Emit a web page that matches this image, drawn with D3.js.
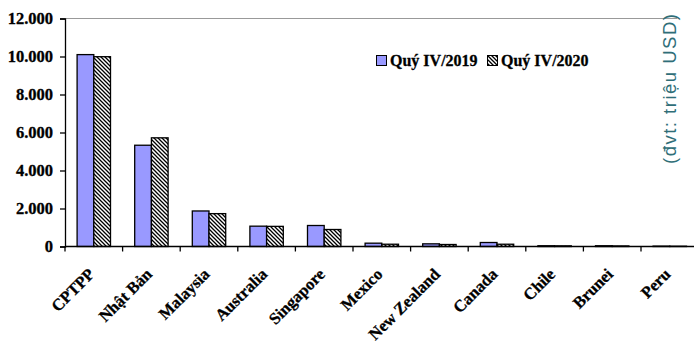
<!DOCTYPE html>
<html>
<head>
<meta charset="utf-8">
<script src="https://cdn.jsdelivr.net/npm/d3@7"></script>
<style>
  html, body { margin: 0; padding: 0; background: #fff; }
  svg { display: block; }
</style>
</head>
<body>
<svg id="chart" width="694" height="343"></svg>
<script>
// Trade with CPTPP partners, quarter IV 2019 vs quarter IV 2020 (million USD)
const categories = ["CPTPP", "Nhật Bản", "Malaysia", "Australia", "Singapore", "Mexico",
                    "New Zealand", "Canada", "Chile", "Brunei", "Peru"];
const q2019 = [10100, 5330, 1870, 1070, 1105, 175, 140, 210, 40, 40, 20];
const q2020 = [9990, 5720, 1730, 1060, 895, 120, 105, 120, 35, 30, 15];
const seriesNames = ["Quý IV/2019", "Quý IV/2020"];
const yTicks = [0, 2000, 4000, 6000, 8000, 10000, 12000];
const unitLabel = "(đvt: triệu USD)";

const svg = d3.select("#chart");
const serif = "'Liberation Serif', 'Times New Roman', serif";

// hatch pattern for the second series
const defs = svg.append("defs");
const pat = defs.append("pattern")
  .attr("id", "hatch")
  .attr("patternUnits", "userSpaceOnUse")
  .attr("width", 4).attr("height", 4);
pat.append("rect").attr("width", 4).attr("height", 4).attr("fill", "#fff");
pat.append("path")
  .attr("d", "M-1,-1 L5,5 M-1,3 L1,5 M3,-1 L5,1")
  .attr("stroke", "#000").attr("stroke-width", 1.3);

const x0 = 65, step = 57.6;
const x = d3.scaleBand()
  .domain(categories)
  .range([x0, x0 + step * categories.length])
  .paddingInner(0.42).paddingOuter(0.21);
const xs = d3.scaleBand().domain([0, 1]).range([0, x.bandwidth()]);
const y = d3.scaleLinear().domain([0, 12000]).range([246.5, 18.5]);

// top border of the plot area
svg.append("line")
  .attr("x1", x0).attr("x2", 677)
  .attr("y1", y(12000)).attr("y2", y(12000))
  .attr("stroke", "#999").attr("stroke-width", 1);

// bars
const fills = ["#9999ff", "url(#hatch)"];
[q2019, q2020].forEach((vals, s) => {
  svg.append("g").selectAll("rect")
    .data(vals)
    .join("rect")
    .attr("x", (d, i) => x(categories[i]) + xs(s))
    .attr("width", xs.bandwidth())
    .attr("y", d => y(d))
    .attr("height", d => y(0) - y(d))
    .attr("fill", fills[s])
    .attr("stroke", "#000")
    .attr("stroke-width", 1.3);
});

// y axis
const yAxis = svg.append("g")
  .attr("transform", `translate(${x0},0)`)
  .call(d3.axisLeft(y).tickValues(yTicks).tickSize(5).tickPadding(7)
    .tickFormat(d => d3.format(",")(d).replace(/,/g, ".")));
yAxis.select(".domain").attr("stroke", "#000").attr("stroke-width", 1.3);
yAxis.selectAll(".tick line").attr("stroke", "#000").attr("stroke-width", 1.3);
yAxis.selectAll("text")
  .attr("font-family", serif).attr("font-weight", "bold")
  .attr("font-size", 16.5).attr("fill", "#000")
  .attr("stroke", "#000").attr("stroke-width", 0.3);

// x axis line and ticks at category boundaries
svg.append("line")
  .attr("x1", x0).attr("x2", 694)
  .attr("y1", y(0)).attr("y2", y(0))
  .attr("stroke", "#000").attr("stroke-width", 1.5);
svg.append("g").selectAll("line")
  .data(d3.range(categories.length + 1))
  .join("line")
  .attr("x1", i => x0 + i * x.step()).attr("x2", i => x0 + i * x.step())
  .attr("y1", y(0)).attr("y2", y(0) + 5)
  .attr("stroke", "#000").attr("stroke-width", 1.3);

// category labels, rotated
svg.append("g").selectAll("text")
  .data(categories)
  .join("text")
  .attr("transform", d => `translate(${x(d) + x.bandwidth() / 2 - 6},${y(0) + 21}) rotate(-45)`)
  .attr("text-anchor", "end")
  .attr("dy", "0.66em")
  .attr("font-family", serif).attr("font-weight", "bold")
  .attr("font-size", 16.5).attr("fill", "#000")
  .attr("stroke", "#000").attr("stroke-width", 0.3)
  .text(d => d);

// legend
const legend = svg.append("g").attr("transform", "translate(376,55)");
const legendX = [0, 111];
seriesNames.forEach((name, s) => {
  const g = legend.append("g").attr("transform", `translate(${legendX[s]},0)`);
  g.append("rect").attr("x", 0.5).attr("y", 0.5).attr("width", 10).attr("height", 10)
    .attr("fill", fills[s]).attr("stroke", "#000").attr("stroke-width", 1);
  g.append("text").attr("x", 14).attr("y", 11)
    .attr("font-family", serif).attr("font-weight", "bold")
    .attr("font-size", 16).attr("fill", "#000")
    .attr("stroke", "#000").attr("stroke-width", 0.3)
    .text(name);
});

// unit label on the right
svg.append("text")
  .attr("transform", "translate(676,89) rotate(-90)")
  .attr("text-anchor", "middle")
  .attr("font-family", "'Liberation Sans', Arial, sans-serif")
  .attr("font-size", 18.5)
  .attr("fill", "#2f6e78")
  .attr("textLength", 150).attr("lengthAdjust", "spacing")
  .text(unitLabel);
</script>
</body>
</html>
